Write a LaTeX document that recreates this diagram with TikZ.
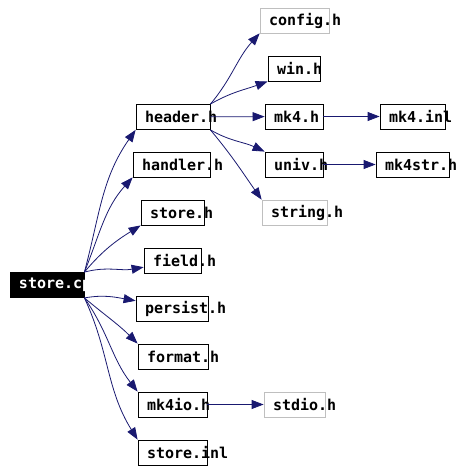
\documentclass[tikz,border=0pt]{standalone}
\usepackage{fontspec}
\usetikzlibrary{arrows.meta}
\newfontfamily\incfont[HyphenChar=None]{DejaVu Sans Mono}
\definecolor{edgeblue}{HTML}{191970}

\begin{document}
\begin{tikzpicture}[x=1pt, y=1pt,
	every node/.style={font=\incfont\bfseries\fontsize{15}{15}\selectfont},
	file/.style={draw, line width=0.8pt, minimum height=25pt, inner xsep=9pt, inner ysep=0pt, text width=#1-18pt, align=left},
	sys/.style={file=#1, draw=gray!50},
	inc/.style={draw=edgeblue, line width=0.8pt, -{Triangle[length=12pt,width=9pt,fill=edgeblue]}}]
	\useasboundingbox (0,0) rectangle (455,-471);
	\node[file=74pt, fill=black, text=white] (cpp) at (47,-285) {store.cpp};
	\node[file=74pt] (header) at (173,-117) {header.h};
	\node[file=77pt] (handler) at (171.5,-164.5) {handler.h};
	\node[file=63pt] (storeh) at (172.5,-212.5) {store.h};
	\node[file=57pt] (field) at (172.5,-260.5) {field.h};
	\node[file=72pt] (persist) at (172,-308.5) {persist.h};
	\node[file=70pt] (format) at (173,-356.5) {format.h};
	\node[file=69pt] (mkio) at (172.5,-404.5) {mk4io.h};
	\node[file=69pt] (storeinl) at (172.5,-452.5) {store.inl};
	\node[sys=69pt] (config) at (294.5,-20.5) {config.h};
	\node[file=52pt] (win) at (294,-68.5) {win.h};
	\node[file=58pt] (mk) at (294,-116.5) {mk4.h};
	\node[file=58pt] (univ) at (294,-164.5) {univ.h};
	\node[sys=65pt] (string) at (294.5,-212.5) {string.h};
	\node[sys=61pt] (stdio) at (294.5,-404.5) {stdio.h};
	\node[file=65pt] (mkinl) at (412.5,-116.5) {mk4.inl};
	\node[file=73pt] (mkstr) at (412.5,-164.5) {mk4str.h};
	\draw[inc] (cpp.north east) to[out=75,in=235] (header.south west);
	\draw[inc] (cpp.north east) to[out=68,in=228] (handler.south west);
	\draw[inc] (cpp.north east) to[out=50,in=212] (storeh.south west);
	\draw[inc] (cpp.north east) to[out=15,in=190] (field.193);
	\draw[inc] (cpp.south east) to[out=10,in=170] (persist.168);
	\draw[inc] (cpp.south east) to[out=-40,in=135] (format.north west);
	\draw[inc] (cpp.south east) to[out=-55,in=128] (mkio.north west);
	\draw[inc] (cpp.south east) to[out=-65,in=122] (storeinl.north west);
	\draw[inc] (header.north east) to[out=50,in=228] (config.south west);
	\draw[inc] (header.north east) to[out=30,in=200] (win.south west);
	\draw[inc] (header) -- (mk);
	\draw[inc] (header.south east) to[out=-30,in=155] (univ.north west);
	\draw[inc] (header.south east) to[out=-50,in=125] (string.north west);
	\draw[inc] (mk) -- (mkinl);
	\draw[inc] (univ) -- (mkstr);
	\draw[inc] (mkio) -- (stdio);
\end{tikzpicture}
\end{document}
